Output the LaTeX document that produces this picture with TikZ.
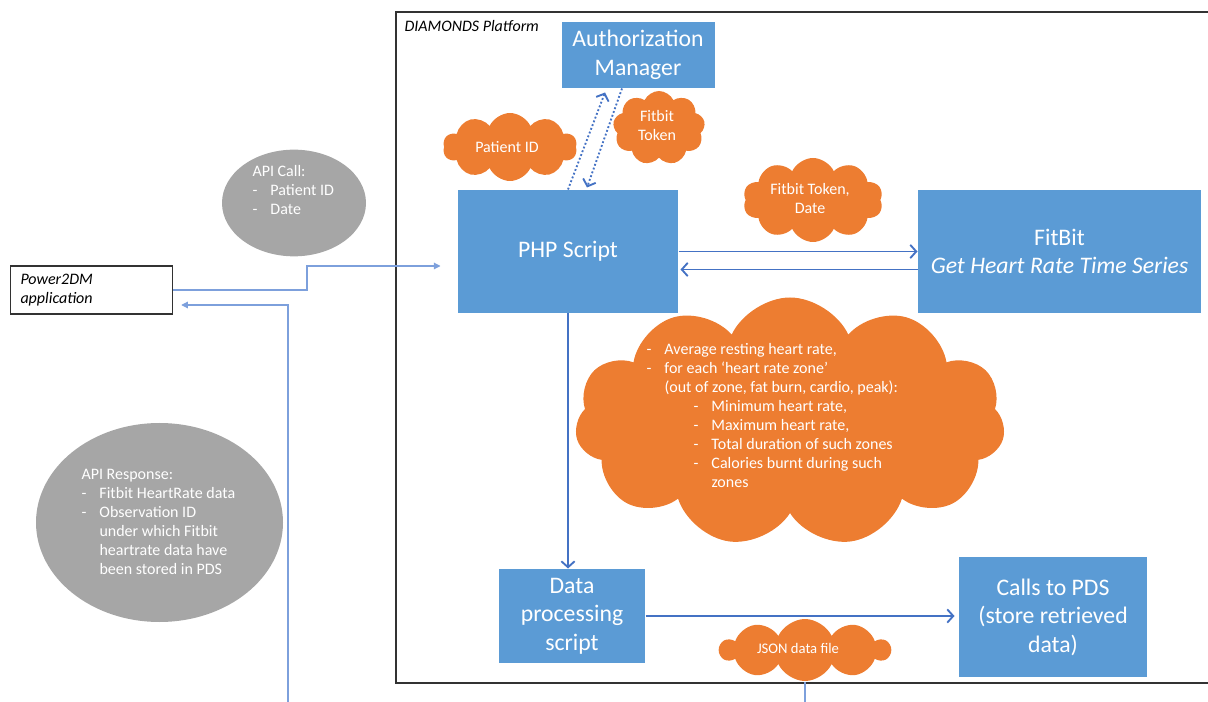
\documentclass[tikz,border=0pt]{standalone}
\usepackage{fontspec}
\setmainfont{Carlito}
\usetikzlibrary{shapes.geometric,shapes.symbols,arrows.meta}

\definecolor{boxblue}{RGB}{91,155,213}
\definecolor{cloudorange}{RGB}{237,125,49}
\definecolor{bubblegrey}{RGB}{166,166,166}
\definecolor{arrowblue}{RGB}{68,114,196}
\definecolor{apiblue}{RGB}{125,160,220}
\definecolor{framegrey}{RGB}{50,50,50}

\newcommand\boxfont{\fontsize{17.8pt}{21.4pt}\selectfont}
\newcommand\notefont{\fontsize{12pt}{14.25pt}\selectfont}
\newcommand\dashitem{\makebox[13.5pt][l]{-}}

\tikzset{every picture/.style={line width=0.75pt}}
\tikzset{
	bluebox/.style={fill=boxblue, text=white, align=center, font=\boxfont, inner sep=0pt},
	orangecloud/.style={cloud, cloud puffs=10, cloud puff arc=130, cloud ignores aspect, fill=cloudorange, inner sep=0pt},
	greybubble/.style={ellipse, fill=bubblegrey, inner sep=0pt},
	notetext/.style={text=white, font=\notefont, align=left, inner sep=0pt},
	flowarrow/.style={draw=arrowblue, line width=1.4pt, -{Straight Barb[length=4.5pt,width=10pt]}},
	tokenarrow/.style={flowarrow, dash pattern=on 1.4pt off 1.6pt},
	apiarrow/.style={draw=apiblue, line width=0.8pt, -{Triangle[length=5pt,width=5pt]}}
}

\begin{document}
\begin{tikzpicture}[x=0.75pt,y=0.75pt,yscale=-1,xscale=1]
	\useasboundingbox (0,0) rectangle (1208,702);

	%Shape: Rectangle [DIAMONDS platform frame]
	\draw[framegrey, line width=1.1pt] (396,12) rectangle (1220,683);
	% Text Node
	\node[anchor=west, font=\notefont\itshape, inner sep=0pt] (platformlabel) at (404,26) {DIAMONDS Platform};

	%Shape: Rectangle [Power2DM application]
	\node[draw=framegrey, line width=1.1pt, minimum width=121.5pt, minimum height=36pt, text width=106.5pt, inner xsep=7.5pt, align=left, font=\notefont\itshape] (power2dm) at (91.5,290) {Power2DM\\application};

	%Shape: Ellipse [API call]
	\node[greybubble, minimum width=108pt, minimum height=80pt] (callbubble) at (294,203) {};
	% Text Node
	\node[notetext, anchor=west] (calltext) at (252,190.5) {API Call:\\\dashitem Patient ID\\\dashitem Date};

	%Shape: Ellipse [API response]
	\node[greybubble, minimum width=185.25pt, minimum height=149.25pt] (respbubble) at (159.5,522.5) {};
	% Text Node
	\node[notetext, anchor=west] (resptext) at (81,522) {API Response:\\\dashitem Fitbit HeartRate data\\\dashitem Observation ID\\\hspace*{13.5pt}under which Fitbit\\\hspace*{13.5pt}heartrate data have\\\hspace*{13.5pt}been stored in PDS};

	%Shape: Rectangle [blue boxes]
	\node[bluebox, minimum width=114.75pt, minimum height=49.5pt] (auth) at (638,55) {Authorization\\Manager};
	\node[bluebox, minimum width=165pt, minimum height=92.25pt] (php) at (568,251.5) {PHP Script};
	\node[bluebox, minimum width=212.25pt, minimum height=92.25pt] (fitbit) at (1059.5,251.5) {FitBit\\\textit{Get Heart Rate Time Series}};
	\node[bluebox, minimum width=109.5pt, minimum height=70.5pt] (dataproc) at (572,616) {Data\\processing\\script};
	\node[bluebox, minimum width=141pt, minimum height=90pt] (pds) at (1053,617) {Calls to PDS\\(store retrieved\\data)};

	%Shape: Cloud [parameters]
	\node[orangecloud, minimum width=100.5pt, minimum height=51pt] (patientcloud) at (510,147) {};
	\node[notetext] (patienttext) at (507,147) {Patient ID};
	\node[orangecloud, cloud puffs=9, minimum width=69pt, minimum height=55.5pt] (tokencloud) at (659,128) {};
	\node[notetext, align=center] (tokentext) at (657,126) {Fitbit\\Token};
	\node[orangecloud, minimum width=105pt, minimum height=63pt] (datecloud) at (813,200) {};
	\node[notetext, align=center] (datetext) at (810,199) {Fitbit Token,\\Date};
	\node[orangecloud, cloud puffs=11, minimum width=322.5pt, minimum height=186.75pt] (zonecloud) at (790,422) {};
	% Text Node
	\node[notetext, anchor=west] (zonetext) at (646,416) {\dashitem Average resting heart rate,\\\dashitem for each `heart rate zone'\\\hspace*{13.5pt}(out of zone, fat burn, cardio, peak):\\\hspace*{35.25pt}\dashitem Minimum heart rate,\\\hspace*{35.25pt}\dashitem Maximum heart rate,\\\hspace*{35.25pt}\dashitem Total duration of such zones\\\hspace*{35.25pt}\dashitem Calories burnt during such\\\hspace*{48.75pt}zones};
	\node[orangecloud, minimum width=127.5pt, minimum height=46.5pt] (jsoncloud) at (805,650) {};
	\node[notetext, font=\fontsize{11pt}{13pt}\selectfont] (jsontext) at (798,648) {JSON data file};

	% Connectors
	\coordinate (callbend) at (307,266);
	\coordinate (respbend) at (288,305);
	\coordinate (respfoot) at (288,710);
	\coordinate (jsonfoot) at (805,710);
	\draw[apiarrow, shorten >=12.75pt] (power2dm.east) -| (callbend) -- (php.west |- callbend);
	\draw[apiarrow, shorten >=6pt] (respfoot) -- (respbend) -- (power2dm.east |- respbend);
	\draw[draw=apiblue, line width=0.8pt] (jsoncloud.south) -- (jsonfoot);
	\draw[tokenarrow] (php.north) -- ([xshift=-24.75pt, yshift=3pt]auth.south);
	\draw[tokenarrow] ([xshift=-12pt]auth.south) -- ([xshift=14.25pt, yshift=-1.5pt]php.north);
	\draw[flowarrow] (php.east) -- (fitbit.west);
	\draw[flowarrow] ([yshift=13.5pt]fitbit.west) -- ([xshift=1.5pt, yshift=13.5pt]php.east);
	\draw[flowarrow] (php.south) -- (php.south |- dataproc.north);
	\draw[flowarrow, shorten >=3pt] (dataproc.east) -- (dataproc.east -| pds.west);

\end{tikzpicture}
\end{document}
